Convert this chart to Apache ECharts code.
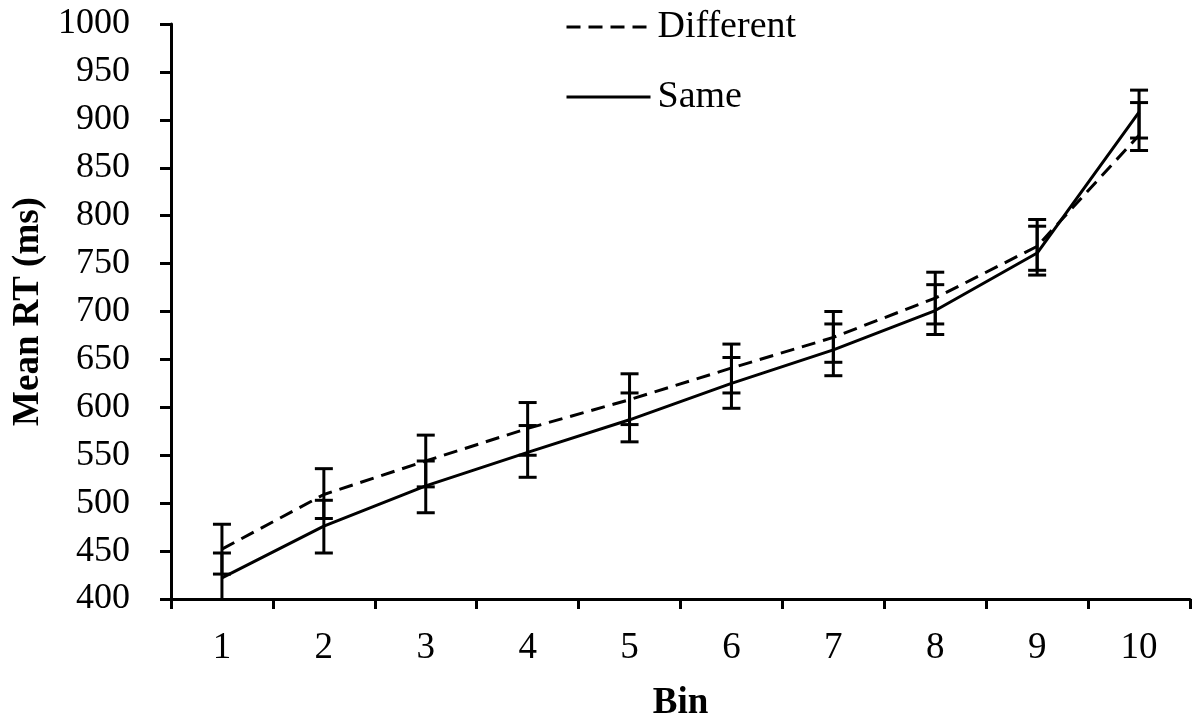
<!DOCTYPE html>
<html>
<head>
<meta charset="utf-8">
<script src="https://cdn.jsdelivr.net/npm/echarts@6/dist/echarts.min.js"></script>
<style>
html,body{margin:0;padding:0;background:#fff;}
#chart{width:1196px;height:725px;}
</style>
</head>
<body>
<div id="chart"></div>
<script>
var categories = ['1','2','3','4','5','6','7','8','9','10'];
var diffMean = [452, 509, 544, 578, 608, 641, 673, 714, 768, 884];
var diffLow  = [426, 484, 517, 550, 582, 615, 647, 687, 743, 868];
var diffHigh = [478, 536, 571, 605, 635, 666, 700, 741, 796, 918];
var sameMean = [422, 476, 518, 553, 587, 625, 660, 701, 761, 908];
var sameLow  = [396, 448, 490, 527, 564, 599, 633, 676, 738, 881];
var sameHigh = [448, 503, 544, 581, 615, 652, 687, 728, 789, 931];
var yMin = 400, yMax = 1000, yStep = 50;

var FONT = "'Liberation Serif','Times New Roman',serif";

function errData(lo, hi){
  return categories.map(function(c, i){ return [i, lo[i], hi[i]]; });
}
function errRender(params, api){
  var x = api.value(0);
  var lo = api.coord([x, api.value(1)]);
  var hi = api.coord([x, api.value(2)]);
  var w = 9;
  var st = {stroke:'#000', lineWidth:3};
  return {type:'group', children:[
    {type:'line', shape:{x1:hi[0], y1:hi[1], x2:lo[0], y2:lo[1]}, style:st},
    {type:'line', shape:{x1:hi[0]-w, y1:hi[1], x2:hi[0]+w, y2:hi[1]}, style:st},
    {type:'line', shape:{x1:lo[0]-w, y1:lo[1], x2:lo[0]+w, y2:lo[1]}, style:st}
  ]};
}

var chart = echarts.init(document.getElementById('chart'), null, {renderer:'canvas'});
chart.setOption({
  animation:false,
  backgroundColor:'#fff',
  textStyle:{fontFamily:FONT, color:'#000'},
  grid:{left:171, right:6, top:24, bottom:126, containLabel:false, outerBoundsMode:'none'},
  legend:{
    data:['Different','Same'],
    orient:'vertical', left:560, top:3, itemGap:32,
    itemWidth:84, itemHeight:14,
    itemStyle:{color:'rgba(0,0,0,0)', borderWidth:0, opacity:0},
    lineStyle:{width:3, color:'#000'},
    textStyle:{fontFamily:FONT, fontSize:38, color:'#000', padding:[0,0,0,2]},
    selectedMode:false
  },
  xAxis:{
    type:'category', data:categories, boundaryGap:true,
    axisLine:{lineStyle:{color:'#000', width:3}},
    axisTick:{show:true, alignWithLabel:false, inside:false, length:10, lineStyle:{color:'#000', width:3}},
    axisLabel:{color:'#000', fontFamily:FONT, fontSize:37, margin:31},
    name:'Bin', nameLocation:'middle', nameGap:104,
    nameTextStyle:{fontFamily:FONT, fontSize:37, fontWeight:'bold', color:'#000', verticalAlign:'middle'},
    splitLine:{show:false}
  },
  yAxis:{
    type:'value', min:yMin, max:yMax, interval:yStep,
    axisLine:{show:true, lineStyle:{color:'#000', width:3}},
    axisTick:{show:true, inside:false, length:11, lineStyle:{color:'#000', width:3}},
    axisLabel:{color:'#000', fontFamily:FONT, fontSize:36, margin:41, formatter:function(v){return String(v);}},
    splitLine:{show:false},
    name:'Mean RT (ms)', nameLocation:'middle', nameGap:139,
    nameTextStyle:{fontFamily:FONT, fontSize:37, fontWeight:'bold', color:'#000', verticalAlign:'middle'}
  },
  series:[
    {name:'Different', type:'line', data:diffMean, symbol:'none', smooth:false,
      lineStyle:{color:'#000', width:3, type:[14,8]}, itemStyle:{color:'#000'}, z:3},
    {name:'Same', type:'line', data:sameMean, symbol:'none', smooth:false,
      lineStyle:{color:'#000', width:3, type:'solid'}, itemStyle:{color:'#000'}, z:3},
    {name:'DiffErr', type:'custom', data:errData(diffLow, diffHigh), renderItem:errRender, clip:true, z:4, silent:true},
    {name:'SameErr', type:'custom', data:errData(sameLow, sameHigh), renderItem:errRender, clip:true, z:4, silent:true}
  ]
});
</script>
</body>
</html>
